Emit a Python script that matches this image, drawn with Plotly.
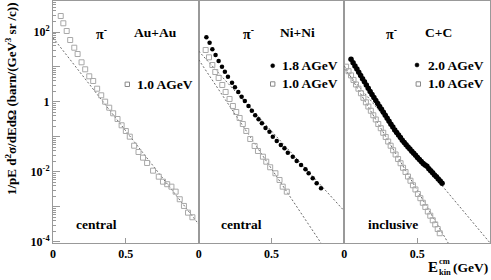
import numpy as np
import plotly.graph_objects as go
from plotly.subplots import make_subplots

# ---------------- data (E_kin^cm in GeV, log10 of 1/pE d2sigma/dEdOmega in barn/(GeV^3 sr/c)) ----
au10_E = [0.053, 0.071, 0.094, 0.118, 0.146, 0.169, 0.196, 0.221, 0.249, 0.276, 0.303, 0.331,
          0.358, 0.386, 0.413, 0.443, 0.471, 0.500, 0.527, 0.557, 0.587, 0.618, 0.646, 0.687,
          0.726, 0.755, 0.784, 0.813, 0.842, 0.870, 0.899, 0.927, 0.957]
au10_log = [2.457, 2.249, 2.029, 1.771, 1.551, 1.371, 1.134, 0.934, 0.734, 0.600, 0.380, 0.191,
            0.009, -0.163, -0.323, -0.486, -0.666, -0.829, -0.991, -1.249, -1.429, -1.591, -1.743, -1.963,
            -2.134, -2.277, -2.350, -2.420, -2.563, -2.780, -2.971, -3.163, -3.294]

ni18_E = [0.053, 0.075, 0.094, 0.116, 0.137, 0.160, 0.180, 0.201, 0.229, 0.249, 0.272, 0.295,
          0.317, 0.342, 0.365, 0.388, 0.411, 0.434, 0.459, 0.486, 0.509, 0.536, 0.564, 0.589,
          0.612, 0.646, 0.673, 0.703, 0.733, 0.755, 0.783, 0.810, 0.840]
ni18_log = [1.849, 1.694, 1.506, 1.343, 1.171, 1.009, 0.866, 0.723, 0.551, 0.420, 0.286, 0.151,
            0.029, -0.114, -0.249, -0.380, -0.494, -0.609, -0.743, -0.849, -0.991, -1.114, -1.229, -1.323,
            -1.449, -1.563, -1.686, -1.800, -1.923, -2.037, -2.180, -2.323, -2.466]

ni10_E = [0.048, 0.071, 0.094, 0.114, 0.137, 0.162, 0.185, 0.212, 0.235, 0.258, 0.281, 0.303,
          0.327, 0.354, 0.384, 0.407, 0.441, 0.464, 0.491, 0.527, 0.555, 0.577, 0.605]
ni10_log = [1.486, 1.277, 1.057, 0.857, 0.686, 0.486, 0.286, 0.086, -0.114, -0.286, -0.457, -0.629,
            -0.829, -1.057, -1.257, -1.400, -1.563, -1.706, -1.866, -2.037, -2.229, -2.420, -2.563]

cc20_E = [0.046, 0.060, 0.073, 0.086, 0.099, 0.112, 0.125, 0.138, 0.151, 0.164, 0.177, 0.190,
          0.203, 0.216, 0.229, 0.242, 0.255, 0.268, 0.281, 0.294, 0.307, 0.320, 0.333, 0.346,
          0.359, 0.372, 0.385, 0.398, 0.411, 0.424, 0.437, 0.450, 0.463, 0.476, 0.489, 0.502,
          0.515, 0.528, 0.541, 0.554, 0.567, 0.580, 0.593, 0.606, 0.619, 0.632, 0.645, 0.658, 0.671]
cc20_log = [1.220, 1.122, 1.031, 0.940, 0.849, 0.758, 0.667, 0.576, 0.485, 0.394, 0.303, 0.212,
            0.128, 0.043, -0.041, -0.126, -0.210, -0.295, -0.380, -0.464, -0.549, -0.633, -0.718, -0.802,
            -0.875, -0.947, -1.018, -1.090, -1.160, -1.225, -1.285, -1.345, -1.405, -1.465, -1.525, -1.585,
            -1.645, -1.700, -1.760, -1.800, -1.840, -1.905, -1.965, -2.025, -2.085, -2.140, -2.200, -2.260, -2.320]

cc10_E = [0.012, 0.029, 0.046, 0.063, 0.080, 0.097, 0.114, 0.131, 0.148, 0.165, 0.182, 0.199,
          0.216, 0.233, 0.250, 0.267, 0.284, 0.301, 0.318, 0.335, 0.352, 0.369, 0.386, 0.403,
          0.420, 0.437, 0.454, 0.471, 0.488, 0.505, 0.522, 0.539, 0.556, 0.573, 0.590, 0.607,
          0.624, 0.641, 0.655]
cc10_log = [1.009, 0.880, 0.760, 0.630, 0.500, 0.380, 0.250, 0.120, -0.010, -0.130, -0.250, -0.380,
            -0.500, -0.630, -0.750, -0.880, -1.000, -1.130, -1.250, -1.380, -1.500, -1.630, -1.750, -1.880,
            -2.000, -2.130, -2.250, -2.380, -2.500, -2.630, -2.750, -2.880, -3.000, -3.130, -3.250, -3.380,
            -3.500, -3.630, -3.751]

# exponential fits  A * exp(-E/T)  (A in barn/(GeV^3 sr/c), T in GeV)
fit_A = {"au10": 68.7, "ni18": 28.5, "ni10": 16.2, "cc20": 8.77, "cc10": 10.7}
fit_T = {"au10": 0.0815, "ni18": 0.095, "ni10": 0.0696, "cc20": 0.0874, "cc10": 0.0612}

panel_systems = ["Au+Au", "Ni+Ni", "C+C"]
panel_centrality = ["central", "central", "inclusive"]

# ---------------- figure ----------------
W, H = 491, 280
ML, MR, MT, MB = 53, 1, 1, 37
PW, PH = W - ML - MR, H - MT - MB

def px(x):
    return (x - ML) / PW

def py(y):
    return (H - MB - y) / PH

fig = make_subplots(rows=1, cols=3, shared_yaxes=True, horizontal_spacing=0)

GRAY = "#a8a8a8"
E_line = np.array([0.0, 1.0])

def add_fit(key, col):
    fig.add_trace(go.Scatter(x=E_line, y=fit_A[key] * np.exp(-E_line / fit_T[key]),
                             mode="lines", line=dict(color="#444", width=0.8, dash="2px,2px"),
                             showlegend=False, hoverinfo="skip"), row=1, col=col)

def add_squares(E, lg, col):
    fig.add_trace(go.Scatter(x=E, y=[10 ** v for v in lg], mode="markers",
                             marker=dict(symbol="square-open", size=5, color=GRAY, line=dict(width=1, color=GRAY)),
                             showlegend=False), row=1, col=col)

def add_circles(E, lg, col, size=4.5):
    fig.add_trace(go.Scatter(x=E, y=[10 ** v for v in lg], mode="markers",
                             marker=dict(symbol="circle", size=size, color="black"),
                             showlegend=False), row=1, col=col)

add_fit("au10", 1)
add_squares(au10_E, au10_log, 1)

add_fit("ni18", 2)
add_fit("ni10", 2)
add_squares(ni10_E, ni10_log, 2)
add_circles(ni18_E, ni18_log, 2)

add_fit("cc20", 3)
add_fit("cc10", 3)
add_squares(cc10_E, cc10_log, 3)
add_circles(cc20_E, cc20_log, 3, size=5.5)

tickfont = dict(family="Liberation Serif", size=12, color="black", weight="bold")
LINEC = "#999999"

for i in range(1, 4):
    fig.update_xaxes(range=[0, 1.0], tickvals=[0, 0.5], ticktext=["0", "0.5"], ticks="inside",
                     ticklen=5, tickcolor=LINEC, showline=True, linecolor=LINEC, linewidth=1, mirror=True,
                     showgrid=False, zeroline=False, tickfont=tickfont, automargin=False, row=1, col=i)

major = [10.0 ** k for k in range(-4, 3)]
minor = [m * 10.0 ** k for k in range(-5, 3) for m in range(2, 10)]
ytext = ["10<sup>-4</sup>", "", "10<sup>-2</sup>", "", "1", "", "10<sup>2</sup>"]
fig.update_yaxes(type="log", range=[-4.03, 2.886], showgrid=False, zeroline=False,
                 showline=True, linecolor=LINEC, linewidth=1, mirror=True, automargin=False)
fig.update_yaxes(tickvals=major, ticktext=ytext, ticks="inside", ticklen=7, tickcolor=LINEC,
                 minor=dict(tickvals=minor, ticks="inside", ticklen=3, tickcolor=LINEC),
                 tickfont=tickfont, row=1, col=1)
fig.update_yaxes(ticks="", showticklabels=False, row=1, col=2)
fig.update_yaxes(ticks="", showticklabels=False, row=1, col=3)

F = dict(family="Liberation Serif", size=13.5, color="black")
ann = []

def text(x, y, s, size=13.5, xanchor="center", **kw):
    f = dict(F)
    f["size"] = size
    ann.append(dict(x=px(x), y=py(y), xref="paper", yref="paper", text=s, showarrow=False,
                    xanchor=xanchor, yanchor="middle", font=f, **kw))

# panel labels
for xc, sysname in zip([155, 297, 438], panel_systems):
    text(xc, 32, "<b>" + sysname + "</b>")
for xc in [101.7, 248.3, 391.7]:
    text(xc, 33, "<b>π<sup>-</sup></b>", size=14)
for xc, c in zip([96.7, 241.7, 392.5], panel_centrality):
    text(xc, 224, "<b>" + c + "</b>")

# legends
text(135, 84.3, "<b>1.0 AGeV</b>", xanchor="left")
text(280, 65.7, "<b>1.8 AGeV</b>", xanchor="left")
text(280, 84.0, "<b>1.0 AGeV</b>", xanchor="left")
text(426, 65.0, "<b>2.0 AGeV</b>", xanchor="left")
text(426, 84.0, "<b>1.0 AGeV</b>", xanchor="left")

shapes = []
def sq(x, y, s=2.2):
    shapes.append(dict(type="rect", xref="paper", yref="paper", x0=px(x - s), x1=px(x + s),
                       y0=py(y + s), y1=py(y - s), line=dict(color="#888", width=1)))
def dot(x, y, s=2.0):
    shapes.append(dict(type="circle", xref="paper", yref="paper", x0=px(x - s), x1=px(x + s),
                       y0=py(y + s), y1=py(y - s), fillcolor="black", line=dict(color="black", width=0.5)))
sq(127.3, 84.3)
dot(272.7, 65.7)
sq(272.7, 84.0)
dot(417.0, 65.0)
sq(418.3, 84.0)

# axis titles
text(432.5, 267, "<b>E</b>", size=15)
text(437, 261, "<b>cm</b>", size=8.5, xanchor="left")
text(437, 271.5, "<b>kin</b>", size=8.5, xanchor="left")
text(490, 267, "<b>(GeV)</b>", size=13.5, xanchor="right")

ann.append(dict(x=px(11), y=py(1), xref="paper", yref="paper", showarrow=False, textangle=-90,
                text="<b>1/pE d<sup>2</sup>σ/dEdΩ (barn/(GeV<sup>3</sup> sr /c))</b>",
                xanchor="center", yanchor="top", font=dict(family="Liberation Serif", size=13, color="black")))

fig.update_layout(width=W, height=H, margin=dict(l=ML, r=MR, t=MT, b=MB),
                  paper_bgcolor="white", plot_bgcolor="white", showlegend=False,
                  annotations=ann, shapes=shapes)

fig.write_html("out.html", config={"displayModeBar": False},
               post_script="document.body.style.margin='0px';document.body.style.padding='0px';")
